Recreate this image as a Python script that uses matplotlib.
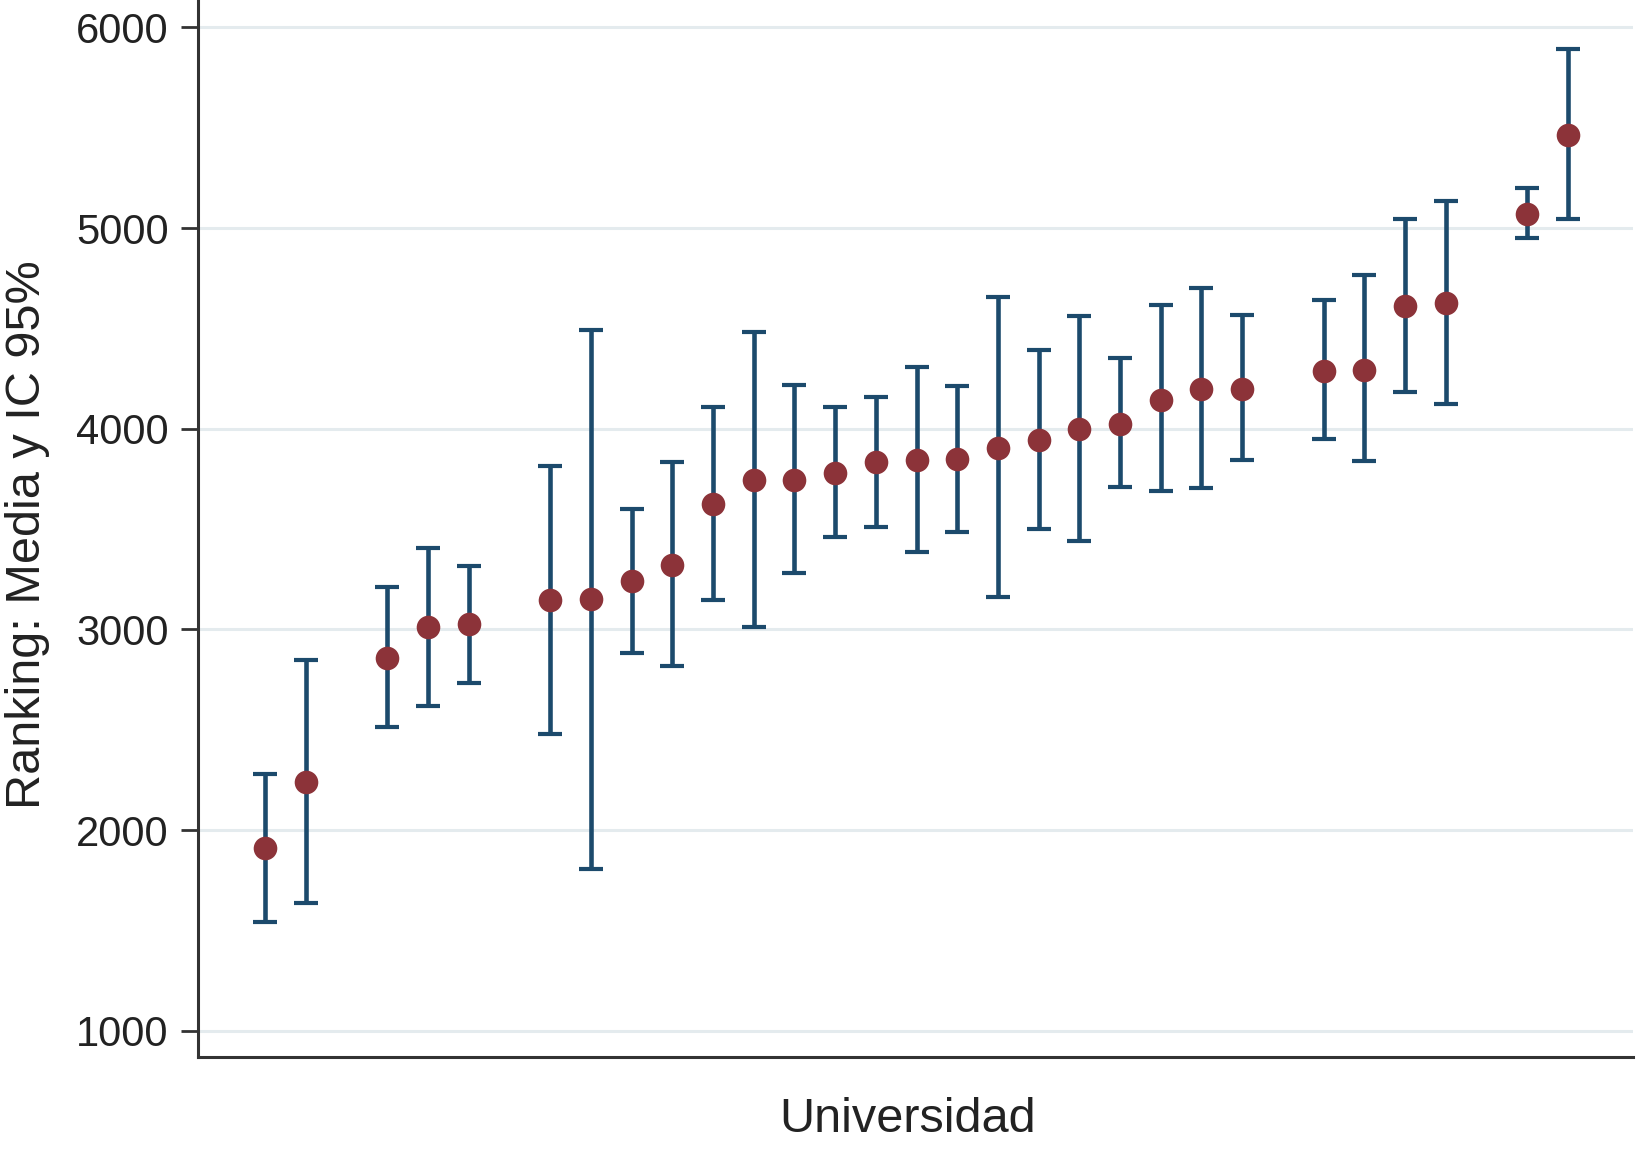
import numpy as np
import matplotlib
matplotlib.use("Agg")
import matplotlib.pyplot as plt

plt.rcParams['font.family'] = ['Liberation Sans', 'DejaVu Sans']

# Slot positions (universities ordered by mean); some slots have no data
positions = [0, 1, 3, 4, 5, 7, 8, 9, 10, 11, 12, 13, 14, 15, 16, 17, 18,
             19, 20, 21, 22, 23, 24, 26, 27, 28, 29, 31, 32]
means = [1910, 2240, 2860, 3010, 3025, 3145, 3150, 3240, 3320, 3625, 3745,
         3745, 3780, 3835, 3845, 3848, 3905, 3945, 3998, 4025, 4145, 4200,
         4200, 4290, 4292, 4612, 4628, 5072, 5462]
upper = [2280, 2846, 3212, 3408, 3315, 3813, 4494, 3600, 3834, 4108, 4484,
         4218, 4108, 4156, 4307, 4213, 4656, 4390, 4562, 4354, 4614, 4702,
         4567, 4640, 4765, 5045, 5134, 5197, 5893]
lower = [1541, 1636, 2513, 2617, 2731, 2477, 1805, 2882, 2820, 3148, 3014,
         3283, 3459, 3512, 3387, 3485, 3163, 3502, 3439, 3709, 3689, 3704,
         3844, 3948, 3839, 4182, 4125, 4952, 5045]
yticks = [1000, 2000, 3000, 4000, 5000, 6000]

W, H = 1636, 1159
fig = plt.figure(figsize=(W / 100, H / 100), dpi=100)
ax = fig.add_axes([198 / W, 1 - 1057 / H, (1633 - 198) / W, 1057 / H])

x = np.array(positions, dtype=float)
m = np.array(means, dtype=float)
yerr = np.vstack([m - np.array(lower), np.array(upper) - m])

ax.set_axisbelow(True)
ax.yaxis.grid(True, color='#e4ebee', linewidth=2.2)
ax.errorbar(x, m, yerr=yerr, fmt='none', ecolor='#1c4a6c', elinewidth=3.3,
            capsize=8.3, capthick=3.0, zorder=2)
ax.plot(x, m, 'o', color='#8c3339', markersize=17, markeredgewidth=0,
        zorder=3)

ax.set_xlim(-1.65, 33.6)
ax.set_ylim(870, 6136)
ax.set_yticks(yticks)
ax.set_yticklabels([str(t) for t in yticks])
ax.set_xticks([])

for s in ['top', 'right']:
    ax.spines[s].set_visible(False)
for s in ['left', 'bottom']:
    ax.spines[s].set_linewidth(2.2)
    ax.spines[s].set_color('#333333')

ax.tick_params(axis='y', length=12, width=2, color='#333333', pad=9,
               labelsize=30, labelcolor='#222222')

fig.text(908 / W, 1 - 1120 / H, 'Universidad', fontsize=35, color='#222222',
         ha='center', va='center')
fig.text(28 / W, 1 - 535 / H, 'Ranking: Media y IC 95%', fontsize=35,
         color='#222222', rotation=90, ha='center', va='center')

fig.savefig('out.png', dpi=100)
